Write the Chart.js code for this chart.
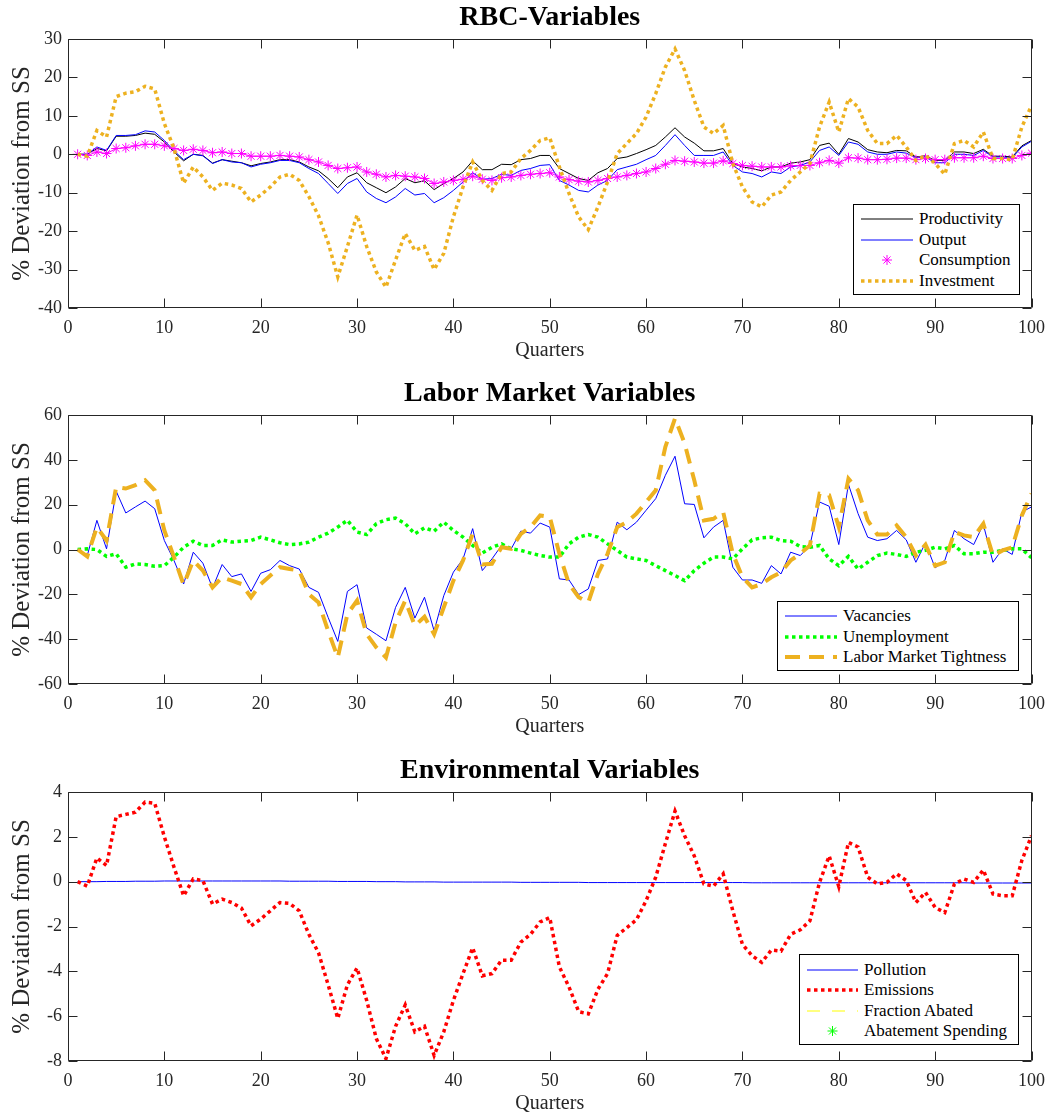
<!DOCTYPE html>
<html><head><meta charset="utf-8">
<script src="https://cdn.jsdelivr.net/npm/chart.js@4.4.1/dist/chart.umd.min.js"></script>
<style>
html,body{margin:0;padding:0;background:#fff;overflow:hidden;width:1054px;height:1114px;position:relative;}
.wrap{position:absolute;left:0;width:1054px;height:376px;}
canvas{display:block;}
.leg{position:absolute;background:#fff;border:1px solid #000;box-sizing:border-box;font-family:'Liberation Serif','Times New Roman',serif;font-size:17px;color:#000;}
.row{position:absolute;left:0;right:0;height:20px;line-height:20px;white-space:nowrap;}
.row svg{position:absolute;left:0;top:0;overflow:visible;}
.row span{position:absolute;top:0;}
</style></head><body>
<div class="wrap" style="top:0px"><canvas id="c1" width="1054" height="376"></canvas></div>
<div class="wrap" style="top:376px"><canvas id="c2" width="1054" height="376"></canvas></div>
<div class="wrap" style="top:753px"><canvas id="c3" width="1054" height="376"></canvas></div>
<div id="leg1" class="leg" style="left:853px;top:204px;width:167px;height:91px;"></div>
<div id="leg2" class="leg" style="left:777px;top:601px;width:242px;height:70px;"></div>
<div id="leg3" class="leg" style="left:799px;top:954px;width:220px;height:91px;"></div>
<script>
// ---------------- DATA ----------------
const quarters = [1,2,3,4,5,6,7,8,9,10,11,12,13,14,15,16,17,18,19,20,21,22,23,24,25,26,27,28,29,30,31,32,33,34,35,36,37,38,39,40,41,42,43,44,45,46,47,48,49,50,51,52,53,54,55,56,57,58,59,60,61,62,63,64,65,66,67,68,69,70,71,72,73,74,75,76,77,78,79,80,81,82,83,84,85,86,87,88,89,90,91,92,93,94,95,96,97,98,99,100];

const productivity = [0,0,1.5,0.9,4.7,4.7,4.9,5.5,5.2,3.2, 0.6,-1.7,0,-0.3,-2.3,-1.4,-1.8,-2.2,-3.0,-2.4, -2.0,-1.4,-1.4,-2.0,-3.3,-4.3,-6.3,-8.7,-5.9,-4.8, -7.4,-8.7,-10.0,-8.5,-6.3,-7.4,-6.9,-9.2,-7.6,-6.3, -4.6,-1.7,-4.0,-4.0,-2.6,-2.7,-1.4,-1.1,-0.3,-0.3, -3.7,-5.0,-6.3,-6.8,-4.8,-3.7,-1.1,-0.7,0.2,1.2, 2.3,4.5,6.9,4.5,2.9,0.9,0.9,1.5,-2.4,-3.3, -3.7,-4.3,-3.3,-3.3,-2.3,-2.0,-1.4,2.3,2.9,0, 4.1,3.2,1.2,0.6,0.4,1.0,0.9,-0.7,-0.4,-1.6, -1.6,0.6,0.6,0.2,1.3,-0.5,-0.5,-0.7,2.2,3.6];

const output = [0,0,1.9,1.0,4.9,4.9,5.1,6.1,5.8,3.6, 0.9,-1.4,0,-0.4,-2.4,-1.4,-2.0,-2.2,-3.3,-2.6, -2.2,-1.6,-1.6,-2.2,-3.7,-5.0,-7.6,-10.2,-7.6,-6.3, -9.8,-11.5,-12.6,-11.1,-8.9,-10.6,-10.2,-12.6,-11.3,-9.4, -7.2,-4.8,-6.5,-6.3,-5.2,-5.5,-4.2,-3.7,-2.9,-2.7, -6.8,-8.0,-9.4,-9.8,-8.0,-6.8,-4.0,-3.3,-2.6,-1.4, -0.3,2.3,5.1,2.3,-0.3,-0.3,-0.3,0.6,-2.9,-4.6, -5.0,-5.9,-4.6,-5.0,-3.3,-2.9,-2.0,1.0,1.9,-0.3, 3.2,2.6,0.6,0,0,0.6,0.3,-0.9,-0.7,-2.2, -2.2,0,0,-0.3,1.0,-0.7,-0.7,-0.9,1.9,3.4];

const consumption = [0,-0.3,0.6,0.2,1.5,1.7,2.2,2.6,2.6,2.2, 1.5,1.0,1.3,1.0,0.4,0.6,0.2,0.2,-0.5,-0.5, -0.5,-0.3,-0.5,-0.7,-1.4,-2.0,-2.9,-3.7,-3.5,-3.3, -4.6,-5.2,-5.9,-5.5,-5.7,-5.9,-6.3,-7.6,-7.2,-6.8, -6.5,-5.7,-6.5,-6.8,-6.1,-5.9,-5.5,-5.2,-5.0,-4.8, -5.9,-6.6,-7.0,-7.2,-6.8,-6.3,-5.9,-5.5,-5.0,-4.6, -3.7,-2.6,-1.6,-1.8,-2.0,-2.3,-2.3,-1.7,-2.4,-2.9, -3.1,-3.3,-3.3,-3.3,-3.0,-2.9,-2.9,-2.2,-1.6,-2.3, -0.9,-1.0,-1.4,-1.4,-1.3,-1.0,-1.0,-1.4,-1.1,-1.4, -1.4,-0.9,-0.9,-0.9,-0.5,-1.1,-1.1,-1.1,-0.3,0.3];

const investment = [0,-0.5,6.2,4.5,15.0,15.9,16.3,17.7,17.0,8.0, 1.5,-7.5,-3.3,-5.9,-9.4,-7.5,-8.0,-8.9,-12.4,-10.6, -8.5,-5.9,-5.2,-6.8,-11.0,-16.0,-23.0,-31.9,-24.0,-15.8, -24.0,-30.6,-34.6,-27.5,-20.6,-25.0,-24.0,-30.0,-25.8,-16.3, -8.5,-2.0,-6.8,-9.4,-5.0,-4.6,-1.1,1.0,3.6,4.3, -3.3,-10.2,-16.3,-19.6,-13.7,-7.2,0.2,2.8,5.4,9.7, 15.8,22.7,27.4,21.8,14.0,7.1,5.4,7.5,-2.4,-8.5, -12.4,-13.7,-10.6,-9.8,-6.8,-4.6,-2.4,7.1,13.6,5.8, 14.5,12.3,6.2,2.8,2.8,4.9,1.9,-1.6,-0.3,-2.4, -5.2,2.8,3.6,1.9,5.8,-1.1,-1.1,-1.4,7.1,12.7];

const vacancies = [0,-2.7,13.0,0.3,26.0,16.3,19.0,21.6,18.2,4.0, -4.9,-15.4,-1.2,-6.1,-17.2,-6.7,-12.1,-10.9,-18.7,-10.6, -9.0,-4.9,-7.2,-8.7,-16.9,-19.1,-30.3,-41.0,-18.7,-15.7, -35.0,-37.8,-40.7,-25.8,-16.9,-30.6,-21.3,-36.3,-20.6,-10.1, -4.2,9.3,-9.4,-4.2,1.8,0.3,8.2,7.3,11.8,10.0, -13.1,-13.6,-20.1,-17.6,-4.9,-4.2,12.2,8.8,12.2,17.5, 22.7,33.1,41.6,20.4,20.1,5.2,10.0,13.0,-7.9,-13.6, -13.6,-15.1,-7.2,-10.9,-1.2,-2.7,1.8,21.2,19.3,2.2, 29.1,16.0,5.5,4.0,4.8,8.5,4.3,-5.7,3.0,-8.2, -4.9,8.5,4.8,2.2,11.2,-5.7,0.3,-2.2,16.7,19.0];

const unemployment = [0,0.3,0,-3.1,-1.9,-7.9,-6.4,-6.7,-7.5,-7.2, -3.4,1.0,3.7,1.8,1.8,4.3,3.3,3.7,4.0,5.5, 4.3,3.0,2.2,2.5,3.3,5.5,7.3,10.0,13.0,7.8, 6.7,11.5,13.3,14.0,11.5,7.0,9.7,8.2,12.2,8.5, 5.5,1.8,-1.6,1.0,2.5,0.3,-0.4,-1.6,-2.7,-3.4, -3.4,2.5,5.5,6.7,5.5,2.5,-0.4,-3.4,-4.2,-4.9, -7.2,-9.4,-11.6,-13.9,-9.4,-6.1,-3.4,-3.4,-4.2,0.3, 4.3,5.2,5.5,4.0,3.7,1.3,1.0,1.8,-4.2,-7.2, -3.1,-8.7,-5.7,-2.7,-1.6,-2.2,-3.1,-1.2,-0.4,1.0, 0.3,1.8,-1.9,-1.9,-1.2,-1.2,-0.4,0.3,0.3,-3.7];

const tightness = [0,-3.1,10.0,4.0,27.9,27.2,28.7,30.9,26.4,8.5, -3.4,-15.7,-4.9,-9.4,-16.9,-12.4,-13.9,-15.4,-21.3,-15.4, -11.6,-7.9,-8.7,-9.4,-19.9,-23.6,-36.3,-48.2,-28.8,-22.8, -37.8,-43.7,-48.2,-32.5,-22.8,-34.0,-30.0,-37.8,-25.8,-13.9, -4.9,7.0,-6.7,-6.4,1.0,0.3,7.0,10.0,15.2,14.5, -1.9,-15.4,-21.3,-23.6,-10.9,-1.9,10.0,12.2,16.0,21.2, 26.4,45.8,58.5,47.3,30.9,13.0,13.7,16.7,-1.9,-12.4, -16.9,-15.4,-12.4,-10.1,-4.9,-1.9,1.8,24.9,24.2,10.0, 31.6,26.4,13.0,6.7,6.7,10.7,5.5,-2.7,2.2,-7.2, -5.7,7.8,6.3,5.5,11.5,-2.7,-0.4,1.0,15.2,24.9];

const pollution = [0.00,0.00,0.00,0.01,0.01,0.01,0.02,0.02,0.02,0.03, 0.03,0.03,0.03,0.03,0.03,0.03,0.03,0.03,0.03,0.03, 0.03,0.03,0.02,0.02,0.02,0.02,0.02,0.01,0.01,0.01, 0.01,0.00,0.00,0.00,-0.01,-0.01,-0.01,-0.01,-0.02,-0.02, -0.02,-0.02,-0.02,-0.02,-0.02,-0.02,-0.03,-0.03,-0.03,-0.03, -0.03,-0.03,-0.03,-0.04,-0.04,-0.04,-0.04,-0.04,-0.04,-0.04, -0.04,-0.04,-0.04,-0.04,-0.04,-0.04,-0.04,-0.04,-0.04,-0.04, -0.05,-0.05,-0.05,-0.05,-0.05,-0.05,-0.05,-0.05,-0.05,-0.05, -0.05,-0.05,-0.05,-0.05,-0.05,-0.05,-0.05,-0.05,-0.05,-0.05, -0.05,-0.05,-0.05,-0.06,-0.06,-0.06,-0.06,-0.06,-0.06,-0.06];

const emissions = [0,-0.2,1.06,0.72,2.9,3.0,3.1,3.55,3.5,2.0, 0.65,-0.63,0.12,0.05,-1.0,-0.78,-0.93,-1.18,-1.97,-1.67, -1.3,-0.93,-0.97,-1.3,-2.35,-3.17,-4.6,-6.1,-4.6,-3.85, -5.3,-7.0,-7.9,-6.45,-5.5,-6.7,-6.45,-7.75,-6.7,-5.3, -4.1,-2.95,-4.2,-4.1,-3.5,-3.5,-2.7,-2.35,-1.8,-1.6, -3.8,-4.7,-5.8,-5.9,-4.8,-4.1,-2.4,-2.05,-1.7,-0.85, 0.2,1.7,3.15,2.05,1.15,-0.1,-0.2,0.35,-1.3,-2.8, -3.3,-3.6,-3.05,-3.1,-2.35,-2.15,-1.75,-0.03,1.15,-0.22, 1.75,1.55,0.2,-0.1,-0.03,0.35,0.05,-0.93,-0.48,-1.15, -1.38,-0.1,0.12,-0.03,0.52,-0.55,-0.63,-0.63,0.95,2.05];

const fractionAbated = [];      // not visible in the plot
const abatementSpending = [];   // not visible in the plot

const xTicks = [0,10,20,30,40,50,60,70,80,90,100];
const yTicks1 = [-40,-30,-20,-10,0,10,20,30];
const yTicks2 = [-60,-40,-20,0,20,40,60];
const yTicks3 = [-8,-6,-4,-2,0,2,4];

// ---------------- STYLE ----------------
const SERIF = "'Liberation Serif','Times New Roman',serif";
const AX = '#262626';
const ORANGE = '#EDB120';

function pts(arr){ return arr.map((v,i)=>({x:quarters[i], y:v})); }

const framePlugin = {
  id:'frame',
  afterDraw(chart){
    const {ctx, chartArea:a, scales:{x,y}} = chart;
    ctx.save();
    ctx.strokeStyle = AX; ctx.lineWidth = 1;
    const L=Math.round(a.left)+0.5, R=Math.round(a.right)-0.5, T=Math.round(a.top)+0.5, B=Math.round(a.bottom)-0.5;
    ctx.beginPath();
    ctx.rect(L,T,R-L,B-T);
    const tl = 9;
    x.ticks.forEach(t=>{const p=Math.round(x.getPixelForValue(t.value))+0.5; ctx.moveTo(p,B); ctx.lineTo(p,B-tl); ctx.moveTo(p,T); ctx.lineTo(p,T+tl);});
    y.ticks.forEach(t=>{const p=Math.round(y.getPixelForValue(t.value))+0.5; ctx.moveTo(L,p); ctx.lineTo(L+tl,p); ctx.moveTo(R,p); ctx.lineTo(R-tl,p);});
    ctx.stroke();
    ctx.restore();
  }
};

function makeChart(id, title, yt, datasets){
  return new Chart(document.getElementById(id), {
    type:'line',
    data:{datasets},
    options:{
      responsive:false, animation:false, devicePixelRatio:1,
      events:[],
      layout:{padding:{left:0,right:18,top:0,bottom:0}},
      elements:{line:{tension:0, borderCapStyle:'butt'}, point:{radius:0}},
      plugins:{
        legend:{display:false}, tooltip:{enabled:false},
        title:{display:true, text:title, color:'#000', fullSize:false,
          font:{family:SERIF, size:28, weight:'bold', lineHeight:1}, padding:{top:4,bottom:7}}
      },
      scales:{
        x:{type:'linear', min:0, max:100,
          afterBuildTicks(s){ s.ticks = xTicks.map(v=>({value:v})); },
          afterFit(s){ s.height = 68; },
          ticks:{font:{family:SERIF,size:18}, color:AX, padding:9, maxRotation:0, autoSkip:false},
          grid:{display:false, drawTicks:false}, border:{display:false},
          title:{display:true, text:'Quarters', color:AX, font:{family:SERIF,size:20,lineHeight:1}, padding:{top:0,bottom:15}}
        },
        y:{type:'linear', min:yt[0], max:yt[yt.length-1],
          afterBuildTicks(s){ s.ticks = yt.map(v=>({value:v})); },
          afterFit(s){ s.width = 68; },
          ticks:{font:{family:SERIF,size:18}, color:AX, padding:6},
          grid:{display:false, drawTicks:false}, border:{display:false},
          title:{display:true, text:'% Deviation from SS', color:AX, font:{family:SERIF,size:25,lineHeight:1}, padding:{top:10,bottom:0}}
        }
      }
    },
    plugins:[framePlugin]
  });
}

makeChart('c1','RBC-Variables', yTicks1, [
  {label:'Productivity', data:pts(productivity), borderColor:'#000000', borderWidth:1, order:3},
  {label:'Output', data:pts(output), borderColor:'#0000ff', borderWidth:1, order:2},
  {label:'Consumption', data:pts(consumption), borderColor:'#ff00ff', borderWidth:1, pointStyle:'star', pointRadius:5, pointBorderColor:'#ff00ff', pointBackgroundColor:'rgba(0,0,0,0)', pointBorderWidth:1, order:1},
  {label:'Investment', data:pts(investment), borderColor:ORANGE, borderWidth:3.5, borderDash:[3.5,3.5], order:0}
]);

makeChart('c2','Labor Market Variables', yTicks2, [
  {label:'Vacancies', data:pts(vacancies), borderColor:'#0000ff', borderWidth:1, order:2},
  {label:'Unemployment', data:pts(unemployment), borderColor:'#00ff00', borderWidth:3.5, borderDash:[3.5,3.5], order:1},
  {label:'Labor Market Tightness', data:pts(tightness), borderColor:ORANGE, borderWidth:4, borderDash:[15,9], order:0}
]);

makeChart('c3','Environmental Variables', yTicks3, [
  {label:'Pollution', data:pts(pollution), borderColor:'#0000ff', borderWidth:1, order:3},
  {label:'Emissions', data:pts(emissions), borderColor:'#ff0000', borderWidth:3.5, borderDash:[3.5,3.5], order:2},
  {label:'Fraction Abated', data:pts(fractionAbated), borderColor:'#ffff00', borderWidth:1, borderDash:[13,10], order:1},
  {label:'Abatement Spending', data:pts(abatementSpending), borderColor:'#00ff00', borderWidth:1, showLine:false, pointStyle:'star', pointRadius:5, order:0}
]);

// ---------------- LEGENDS (HTML) ----------------
function sample(s, x1, x2){
  const c = (x1+x2)/2;
  if (s.star){
    const r=5, d=3.54;
    return `<line x1="${c-r}" y1="10" x2="${c+r}" y2="10" stroke="${s.color}" stroke-width="1"/>`+
           `<line x1="${c}" y1="${10-r}" x2="${c}" y2="${10+r}" stroke="${s.color}" stroke-width="1"/>`+
           `<line x1="${c-d}" y1="${10-d}" x2="${c+d}" y2="${10+d}" stroke="${s.color}" stroke-width="1"/>`+
           `<line x1="${c-d}" y1="${10+d}" x2="${c+d}" y2="${10-d}" stroke="${s.color}" stroke-width="1"/>`;
  }
  return `<line x1="${x1}" y1="10" x2="${x2}" y2="10" stroke="${s.color}" stroke-width="${s.w}" ${s.dash?`stroke-dasharray="${s.dash}"`:''}/>`;
}
function buildLegend(id, rows, rowY, x1, x2, tx){
  const el = document.getElementById(id);
  const w = el.clientWidth;
  el.innerHTML = rows.map((s,i)=>
    `<div class="row" style="top:${rowY[i]-10}px"><svg width="${w}" height="20">${sample(s,x1,x2)}</svg><span style="left:${tx}px">${s.label}</span></div>`
  ).join('');
}
buildLegend('leg1', [
  {label:'Productivity', color:'#000000', w:1},
  {label:'Output', color:'#0000ff', w:1},
  {label:'Consumption', color:'#ff00ff', star:true},
  {label:'Investment', color:ORANGE, w:3.5, dash:'3.5 3.5'}
], [13.5,34.5,55,76], 7, 59, 65);
buildLegend('leg2', [
  {label:'Vacancies', color:'#0000ff', w:1},
  {label:'Unemployment', color:'#00ff00', w:3.5, dash:'3.5 3.5'},
  {label:'Labor Market Tightness', color:ORANGE, w:4, dash:'15 9'}
], [13.5,34.5,55], 7, 59, 65);
buildLegend('leg3', [
  {label:'Pollution', color:'#0000ff', w:1},
  {label:'Emissions', color:'#ff0000', w:3.5, dash:'3.5 3.5'},
  {label:'Fraction Abated', color:'#ffff00', w:1, dash:'13 12'},
  {label:'Abatement Spending', color:'#00ff00', star:true}
], [14.5,35,55.5,76], 7, 58, 64);
</script>
</body></html>
